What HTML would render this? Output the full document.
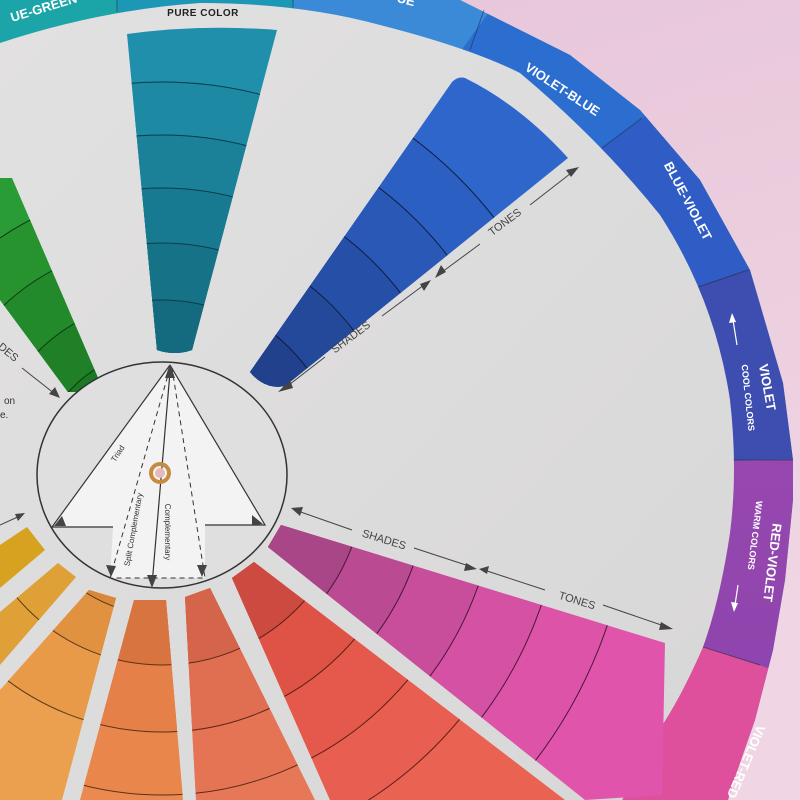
<!DOCTYPE html>
<html><head><meta charset="utf-8"><style>
html,body{margin:0;padding:0;background:#e8c9da;width:800px;height:800px;overflow:hidden;}
svg{display:block;}
text{font-family:"Liberation Sans",sans-serif;}
</style></head><body>
<svg width="800" height="800" viewBox="0 0 800 800" xmlns="http://www.w3.org/2000/svg">
<defs>
<linearGradient id="bg" x1="0" y1="0" x2="0.3" y2="1">
<stop offset="0" stop-color="#e6c4d8"/><stop offset="1" stop-color="#f0d6e4"/></linearGradient>
<linearGradient id="face" x1="0" y1="0" x2="1" y2="1">
<stop offset="0" stop-color="#e2e1e1"/><stop offset="1" stop-color="#d8d7d7"/></linearGradient>
<linearGradient id="rv" x1="0" y1="0" x2="0" y2="1">
<stop offset="0" stop-color="#9848b0"/><stop offset="1" stop-color="#7e3fa8"/></linearGradient>
<clipPath id="outer"><path d="M-10,-10 L440,-10 L500,20 L570,55 L640,110 L700,180 L750,270 L783,383 L793,460 L793,500 L785,580 L773,650 L755,720 L733,783 L725,810 L-10,810 Z"/></clipPath>
<clipPath id="cTeal"><path d="M127,34 Q200,24 277,30 L192,350 Q175,356 157,350 Z"/></clipPath>
<clipPath id="cGreen"><path d="M0,178 L12,178 L98,378 Q94,391 80,392 L68,392 L0,300 Z"/></clipPath>
<clipPath id="cBlue"><path d="M452,82 Q458,76 465,78 Q520,105 568,158 L285,386 Q265,390 250,372 Z"/></clipPath>
<clipPath id="cPink"><path d="M281,525 L665,643 L662,795 L585,800 L268,547 Z"/></clipPath>
<clipPath id="cRed"><path d="M232,578 L254,562 L565,800 L330,800 Z"/></clipPath>
<clipPath id="cOR"><path d="M185,597 L210,588 L315,800 L196,800 Z"/></clipPath>
<clipPath id="cO"><path d="M134,600 L166,600 L183,800 L80,800 Z"/></clipPath>
<clipPath id="cOY"><path d="M89,590 L116,598 L62,800 L0,800 L0,690 Z"/></clipPath>
<clipPath id="cYO"><path d="M58,563 L76,577 L0,665 L0,612 Z"/></clipPath>
<clipPath id="cY"><path d="M27,527 L45,550 L0,588 L0,545 Z"/></clipPath>
</defs>
<rect width="800" height="800" fill="url(#bg)"/>
<g clip-path="url(#outer)">
<rect x="-10" y="-10" width="820" height="820" fill="#1ba5a8"/>
<polygon points="160,470 31,-925 559,-925" fill="#1c98b6"/>
<polygon points="160,470 559,-925 1108,-850" fill="#3a8ad8"/>
<polygon points="160,470 1108,-850 1546,-541" fill="#2c6dd0"/>
<polygon points="160,470 1546,-541 1849,-106" fill="#2f5dc5"/>
<polygon points="160,470 1849,-106 1969,440" fill="#3e4eb0"/>
<polygon points="160,470 1969,440 1873,1028" fill="url(#rv)"/>
<polygon points="160,470 1873,1028 1000,2000 400,2000" fill="#df509c"/>
</g>
<g stroke="#223" stroke-opacity="0.5" stroke-width="1">
<line x1="117" y1="0" x2="117" y2="12"/><line x1="293" y1="0" x2="293" y2="8"/>
<line x1="470" y1="50" x2="484" y2="10"/><line x1="602" y1="148" x2="642" y2="118"/>
<line x1="698" y1="287" x2="748" y2="270"/><line x1="733" y1="460" x2="793" y2="460"/>
<line x1="703" y1="647" x2="760" y2="665"/>
</g>
<path d="M-10,43 L0,43 Q100,10 200,3 Q300,3 380,25 Q470,48 520,73 Q600,140 660,215 Q715,300 730,400 Q738,470 730,533 Q720,600 703,647 Q680,700 657,733 L617,810 L-10,810 Z" fill="url(#face)"/>

<g clip-path="url(#cTeal)">
<rect x="100" y="0" width="200" height="400" fill="#1f8fab"/>
<circle cx="162" cy="475" r="393" fill="#1d89a3"/>
<circle cx="162" cy="475" r="340" fill="#1a8199"/>
<circle cx="162" cy="475" r="287" fill="#187a90"/>
<circle cx="162" cy="475" r="232" fill="#167287"/>
<circle cx="162" cy="475" r="175" fill="#146a7e"/>
<g fill="none" stroke="#0c3c48" stroke-width="1">
<circle cx="162" cy="475" r="393"/><circle cx="162" cy="475" r="340"/><circle cx="162" cy="475" r="287"/><circle cx="162" cy="475" r="232"/><circle cx="162" cy="475" r="175"/></g>
</g>
<g clip-path="url(#cGreen)">
<rect x="0" y="150" width="120" height="260" fill="#2a9c36"/>
<circle cx="162" cy="475" r="287" fill="#27932f"/>
<circle cx="162" cy="475" r="232" fill="#238a2c"/>
<circle cx="162" cy="475" r="175" fill="#1f8028"/>
<circle cx="162" cy="475" r="125" fill="#1c7825"/>
<g fill="none" stroke="#0d3a12" stroke-width="1"><circle cx="162" cy="475" r="287"/><circle cx="162" cy="475" r="232"/><circle cx="162" cy="475" r="175"/><circle cx="162" cy="475" r="125"/></g>
</g>
<g clip-path="url(#cBlue)">
<rect x="240" y="60" width="340" height="340" fill="#2f66cc"/>
<circle cx="162" cy="475" r="420" fill="#2c5fc2"/>
<circle cx="162" cy="475" r="360" fill="#2958b6"/>
<circle cx="162" cy="475" r="300" fill="#2650a8"/>
<circle cx="162" cy="475" r="240" fill="#24489a"/>
<circle cx="162" cy="475" r="180" fill="#22418c"/>
<g fill="none" stroke="#101c40" stroke-width="1"><circle cx="162" cy="475" r="420"/><circle cx="162" cy="475" r="360"/><circle cx="162" cy="475" r="300"/><circle cx="162" cy="475" r="240"/><circle cx="162" cy="475" r="180"/></g>
</g>
<g clip-path="url(#cPink)">
<rect x="260" y="500" width="420" height="310" fill="#e055ab"/>
<circle cx="162" cy="475" r="470" fill="#dc53a8"/>
<circle cx="162" cy="475" r="401" fill="#d451a3"/>
<circle cx="162" cy="475" r="335" fill="#c84e9c"/>
<circle cx="162" cy="475" r="267" fill="#ba4b93"/>
<circle cx="162" cy="475" r="203" fill="#a84688"/>
<g fill="none" stroke="#4a1838" stroke-width="1"><circle cx="162" cy="475" r="470"/><circle cx="162" cy="475" r="401"/><circle cx="162" cy="475" r="335"/><circle cx="162" cy="475" r="267"/><circle cx="162" cy="475" r="203"/></g>
</g>
<g clip-path="url(#cRed)">
<rect x="220" y="550" width="360" height="260" fill="#ea6252"/>
<circle cx="162" cy="475" r="385" fill="#e85e50"/>
<circle cx="162" cy="475" r="320" fill="#e4594b"/>
<circle cx="162" cy="475" r="253" fill="#de5346"/>
<circle cx="162" cy="475" r="190" fill="#cc4a40"/>
<g fill="none" stroke="#5a2018" stroke-width="1"><circle cx="162" cy="475" r="385"/><circle cx="162" cy="475" r="320"/><circle cx="162" cy="475" r="253"/><circle cx="162" cy="475" r="190"/></g>
</g>
<g clip-path="url(#cOR)">
<rect x="180" y="580" width="140" height="230" fill="#e67858"/>
<circle cx="162" cy="475" r="320" fill="#e47454"/>
<circle cx="162" cy="475" r="257" fill="#e06e50"/>
<circle cx="162" cy="475" r="190" fill="#d4644a"/>
<g fill="none" stroke="#5a2818" stroke-width="1"><circle cx="162" cy="475" r="320"/><circle cx="162" cy="475" r="257"/><circle cx="162" cy="475" r="190"/></g>
</g>
<g clip-path="url(#cO)">
<rect x="70" y="590" width="120" height="220" fill="#ea8a50"/>
<circle cx="162" cy="475" r="320" fill="#e8864c"/>
<circle cx="162" cy="475" r="257" fill="#e48048"/>
<circle cx="162" cy="475" r="190" fill="#d87440"/>
<g fill="none" stroke="#5a3018" stroke-width="1"><circle cx="162" cy="475" r="320"/><circle cx="162" cy="475" r="257"/><circle cx="162" cy="475" r="190"/></g>
</g>
<g clip-path="url(#cOY)">
<rect x="0" y="580" width="120" height="230" fill="#eba050"/>
<circle cx="162" cy="475" r="257" fill="#e89a48"/>
<circle cx="162" cy="475" r="190" fill="#e09240"/>
<circle cx="162" cy="475" r="140" fill="#d88838"/>
<g fill="none" stroke="#5a3a18" stroke-width="1"><circle cx="162" cy="475" r="257"/><circle cx="162" cy="475" r="190"/><circle cx="162" cy="475" r="140"/></g>
</g>
<g clip-path="url(#cYO)"><rect x="0" y="550" width="90" height="130" fill="#e0a038"/>
<circle cx="162" cy="475" r="190" fill="none" stroke="#5a3a18"/></g>
<g clip-path="url(#cY)"><rect x="0" y="520" width="60" height="80" fill="#d6a220"/></g>

<ellipse cx="162" cy="475" rx="125" ry="113" fill="#e0dfdf" stroke="#333" stroke-width="1.5"/>
<path d="M170,365 L265,525 L205,525 L205,578 L110,578 L113,527 L52,527 Z" fill="#f3f3f3" stroke="none"/>
<path d="M170,365 L265,525 L205,525 M170,365 L52,527 L113,527" fill="none" stroke="#333" stroke-width="1.2"/>
<path d="M170,368 L110,578 L205,578 L172,368" fill="none" stroke="#333" stroke-width="1" stroke-dasharray="5,4"/>
<line x1="170" y1="372" x2="152" y2="585" stroke="#333" stroke-width="1.2"/>
<g fill="#444">
<polygon points="170,364 165,378 175,378"/>
<polygon points="152,588 147,575 157,575"/>
<polygon points="54,526 62,516 66,526"/>
<polygon points="263,524 252,515 252,525"/>
<polygon points="111,577 106,565 116,566"/>
<polygon points="202,577 197,565 207,565"/>
</g>
<text x="0" y="0" transform="translate(120,455) rotate(-57)" font-family="Liberation Serif,serif" font-size="8" fill="#333" text-anchor="middle">Triad</text>
<text x="0" y="0" transform="translate(136,530) rotate(-80)" font-family="Liberation Serif,serif" font-size="8" fill="#333" text-anchor="middle">Split Complementary</text>
<text x="0" y="0" transform="translate(165,532) rotate(90)" font-family="Liberation Serif,serif" font-size="8" fill="#333" text-anchor="middle">Complementary</text>
<circle cx="160" cy="473" r="9" fill="none" stroke="#c88a40" stroke-width="4"/>
<circle cx="160" cy="473" r="5" fill="#e8b8b8"/>

<g stroke="#444" stroke-width="1" fill="none">
<line x1="285" y1="388" x2="325" y2="357"/><line x1="382" y1="316" x2="428" y2="282"/>
<line x1="438" y1="275" x2="480" y2="244"/><line x1="530" y1="205" x2="575" y2="170"/>
<line x1="295" y1="510" x2="352" y2="530"/><line x1="414" y1="548" x2="472" y2="567"/>
<line x1="484" y1="570" x2="545" y2="590"/><line x1="603" y1="605" x2="670" y2="628"/>
<line x1="22" y1="368" x2="55" y2="394"/>
<line x1="0" y1="525" x2="22" y2="515"/>
</g>
<g fill="#444">
<polygon points="278,392 290,380 293,388"/><polygon points="431,280 420,284 424,291"/>
<polygon points="435,278 446,272 441,265"/><polygon points="579,167 566,170 571,177"/>
<polygon points="291,508 303,507 300,516"/><polygon points="477,569 466,563 464,571"/>
<polygon points="479,569 489,566 487,574"/><polygon points="673,629 661,622 659,630"/>
<polygon points="60,398 49,394 55,387"/><polygon points="25,513 15,514 18,521"/>
</g>
<g font-size="11" fill="#444">
<text transform="translate(353,340) rotate(-37)" text-anchor="middle">SHADES</text>
<text transform="translate(507,225) rotate(-37)" text-anchor="middle">TONES</text>
<text transform="translate(383,543) rotate(17)" text-anchor="middle">SHADES</text>
<text transform="translate(576,604) rotate(17)" text-anchor="middle">TONES</text>
<text transform="translate(6,355) rotate(40)" text-anchor="middle">DES</text>
</g>
<text x="4" y="404" font-size="10" fill="#333">on</text>
<text x="0" y="418" font-size="10" fill="#333">e.</text>
<text x="203" y="16" font-size="10" font-weight="bold" fill="#222" text-anchor="middle" letter-spacing="0.5">PURE COLOR</text>

<g fill="#fff" font-weight="bold">
<text transform="translate(45,12) rotate(-17)" font-size="13" text-anchor="middle">UE-GREEN</text>
<text transform="translate(405,4) rotate(14)" font-size="13" text-anchor="middle">UE</text>
<text transform="translate(560,93) rotate(33)" font-size="13" text-anchor="middle">VIOLET-BLUE</text>
<text transform="translate(684,203) rotate(62)" font-size="13" text-anchor="middle">BLUE-VIOLET</text>
<text transform="translate(763,388) rotate(80)" font-size="13" text-anchor="middle">VIOLET</text>
<text transform="translate(745,398) rotate(84)" font-size="9" text-anchor="middle">COOL COLORS</text>
<text transform="translate(768,562) rotate(97)" font-size="13" text-anchor="middle">RED-VIOLET</text>
<text transform="translate(752,535) rotate(97)" font-size="9" text-anchor="middle">WARM COLORS</text>
<text transform="translate(742,760) rotate(113)" font-size="13" text-anchor="middle">VIOLET-RED</text>
</g>
<g stroke="#fff" stroke-width="1.2"><line x1="733" y1="320" x2="737" y2="345"/><line x1="738" y1="585" x2="735" y2="605"/></g>
<g fill="#fff"><polygon points="732,313 729,323 736,322"/><polygon points="734,612 731,602 738,603"/></g>
</svg>
</body></html>
